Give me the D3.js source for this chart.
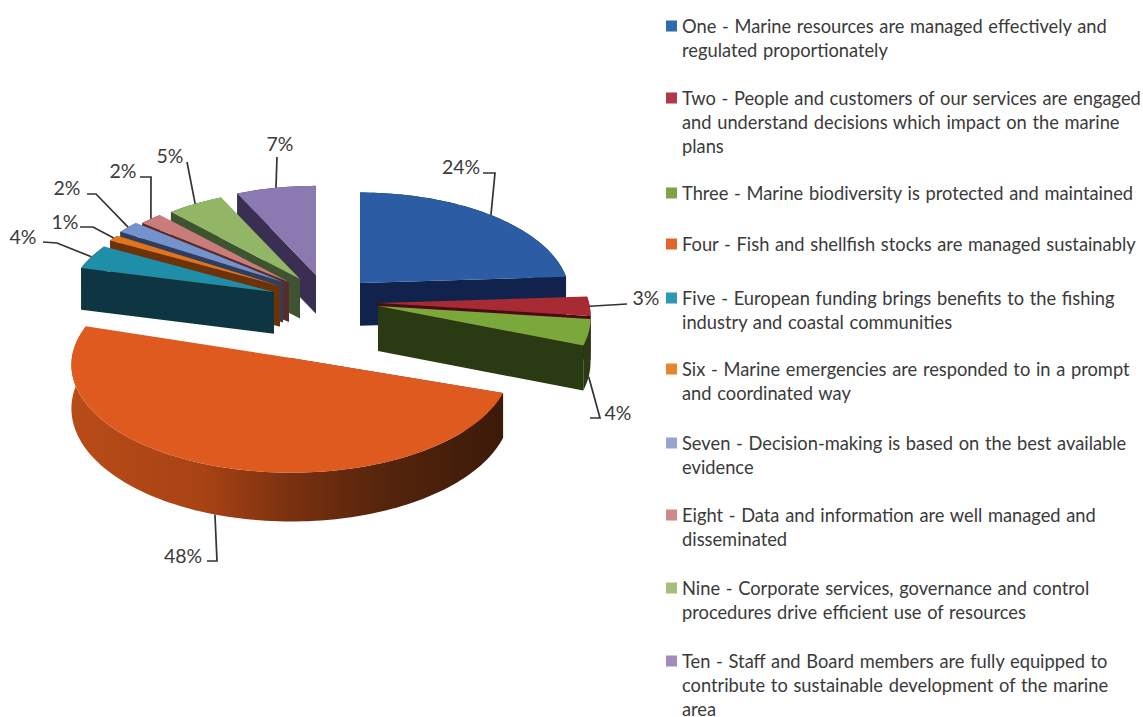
<!DOCTYPE html>
<html>
<head>
<meta charset="utf-8">
<title>Marine plan objectives</title>
<script src="https://cdn.jsdelivr.net/npm/d3@7/dist/d3.min.js"></script>
<style>
  html, body { margin: 0; background: #fff; overflow: hidden; }
  svg { display: block; }
  text { font-family: Lato, "Open Sans", sans-serif; fill: #3a3a3a; }
</style>
</head>
<body>
<svg id="chart" width="1143" height="717"></svg>
<script>
// Share of responses per objective, in percent.
const categories = ["One", "Two", "Three", "Four", "Five", "Six", "Seven", "Eight", "Nine", "Ten"];
const values = [24, 3, 4, 48, 4, 1, 2, 2, 5, 7];

const legendLines = [
  ["One - Marine resources are managed effectively and", "regulated proportionately"],
  ["Two - People and customers of our services are engaged", "and understand decisions which impact on the marine", "plans"],
  ["Three - Marine biodiversity is protected and maintained"],
  ["Four - Fish and shellfish stocks are managed sustainably"],
  ["Five - European funding brings benefits to the fishing", "industry and coastal communities"],
  ["Six - Marine emergencies are responded to in a prompt", "and coordinated way"],
  ["Seven - Decision-making is based on the best available", "evidence"],
  ["Eight - Data and information are well managed and", "disseminated"],
  ["Nine - Corporate services, governance and control", "procedures drive efficient use of resources"],
  ["Ten - Staff and Board members are fully equipped to", "contribute to sustainable development of the marine", "area"]
];

const topColors  = ["#2c5ca3", "#a82a32", "#7aa83a", "#df5a1f", "#1f8ea8", "#e2741c", "#7393cc", "#c97c79", "#93b566", "#8b79b1"];
const wallColors = ["#11234c", "#4a0c10", "#2a3a12", "#7a3412", "#0d3642", "#6e3208", "#2f3d5e", "#5a2b2b", "#3e5430", "#3a2f52"];
const legendColors = ["#2f69ae", "#b03a48", "#7ea344", "#e0672a", "#2a9ab5", "#e8842c", "#93a5d0", "#cf8a88", "#a3c07a", "#a08cc0"];

// Where each exploded slice's point sits, and how long its radius is.
const apexX  = [360, 378, 378, 291, 274, 280, 283, 289, 300, 316];
const apexY  = [283, 303, 306, 352, 292, 286, 282, 282, 279, 275];
const radius = [208, 211, 211, 218, 205, 205, 205, 205, 205, 205];
// The big slice is nearly a half disc, so its point sits almost on the chord.
const pointDrop = [0, 0, 0, 6, 0, 0, 0, 0, 0, 0];

// Value label positions and the leader elbows, one entry per slice.
const labelX = [461, 646, 618, 183, 23, 65, 67, 123, 170, 280];
const labelY = [167, 298, 413, 556, 237, 222, 188, 171, 156, 144];
const elbows = [
  [[483, 173], [495, 173]],
  [[627, 304]],
  [[590, 418], [600, 418]],
  [[207, 561], [217, 561]],
  [[43, 242], [57, 243]],
  [[80, 227], [93, 227]],
  [[87, 194], [96, 194]],
  [[140, 177], [151, 177]],
  [[187, 162]],
  [[277, 157]]
];

// Pie seen from above at an angle: tilt squashes depth, perspective enlarges the near side.
const tilt = 0.487, perspective = 0.12, thickness = 43;

const svg = d3.select("#chart");
const defs = svg.append("defs");
const pieSlices = d3.pie().sort(null).value(d => d)(values);

function project(i, angle, r, drop) {
  const unit = 1 / (1 + perspective * Math.cos(angle));
  return [
    apexX[i] + r * Math.sin(angle) * unit,
    apexY[i] - r * tilt * Math.cos(angle) * unit
      + (drop ? thickness * unit : 0)
      + (r === 0 ? pointDrop[i] : 0)
  ];
}

const line = d3.line();

function arcPoints(i, s, drop) {
  const steps = Math.max(4, Math.ceil((s.endAngle - s.startAngle) * 40));
  const toAngle = d3.scaleLinear().domain([0, steps]).range([s.startAngle, s.endAngle]);
  return d3.range(steps + 1).map(k => project(i, toAngle(k), radius[i], drop));
}

// The large front slice's rim darkens from left to right.
const rim = defs.append("linearGradient").attr("id", "rim-four")
  .attr("gradientUnits", "userSpaceOnUse")
  .attr("x1", 70).attr("x2", 510).attr("y1", 0).attr("y2", 0);
[[0, "#b84c18"], [0.3, "#a84314"], [0.5, "#7a3110"], [0.72, "#54240c"], [1, "#3a1a08"]]
  .forEach(([o, c]) => rim.append("stop").attr("offset", o).attr("stop-color", c));

// Painter's order: far slices first, the large front slice last.
const drawOrder = [0, 1, 2, 9, 8, 7, 6, 5, 4, 3];
const marks = svg.append("g");

drawOrder.forEach(i => {
  const s = pieSlices[i];
  const g = marks.append("g");
  const mid = (s.startAngle + s.endAngle) / 2;
  const faceAngle = mid > Math.PI ? s.startAngle : s.endAngle;

  // Cut face of the slice
  g.append("path")
    .attr("d", line([
      project(i, faceAngle, 0, false),
      project(i, faceAngle, radius[i], false),
      project(i, faceAngle, radius[i], true),
      project(i, faceAngle, 0, true)
    ]) + "Z")
    .attr("fill", wallColors[i]);

  // Outer rim
  g.append("path")
    .attr("d", line(arcPoints(i, s, false).concat(arcPoints(i, s, true).reverse())) + "Z")
    .attr("fill", i === 3 ? "url(#rim-four)" : wallColors[i]);

  // Top surface
  g.append("path")
    .attr("d", line([project(i, 0, 0, false)].concat(arcPoints(i, s, false))) + "Z")
    .attr("fill", topColors[i]);
});

// Leaders and value labels
const labels = svg.append("g");
pieSlices.forEach((s, i) => {
  const mid = (s.startAngle + s.endAngle) / 2;
  const anchor = project(i, mid, radius[i], Math.cos(mid) < -0.1);
  labels.append("path")
    .attr("d", line(elbows[i].concat([anchor])))
    .attr("fill", "none")
    .attr("stroke", "#333")
    .attr("stroke-width", 1.7);
  labels.append("text")
    .attr("x", labelX[i])
    .attr("y", labelY[i])
    .attr("dy", "0.35em")
    .attr("text-anchor", "middle")
    .attr("font-size", 19.5)
    .text(d3.format(".0%")(values[i] / 100));
});

// Legend
const legendStep = [26, 98, 193, 244, 298, 369, 443, 515, 588, 661];
const lineHeight = 24.4;
const legend = svg.append("g");
legendLines.forEach((lines, i) => {
  legend.append("rect")
    .attr("x", 666)
    .attr("y", legendStep[i] - 5.5)
    .attr("width", 11)
    .attr("height", 11)
    .attr("fill", legendColors[i]);
  lines.forEach((t, k) => {
    legend.append("text")
      .attr("x", 682)
      .attr("y", legendStep[i] + k * lineHeight)
      .attr("dy", "0.36em")
      .attr("font-size", 18.3)
      .attr("word-spacing", 1)
      .text(t);
  });
});
</script>
</body>
</html>
